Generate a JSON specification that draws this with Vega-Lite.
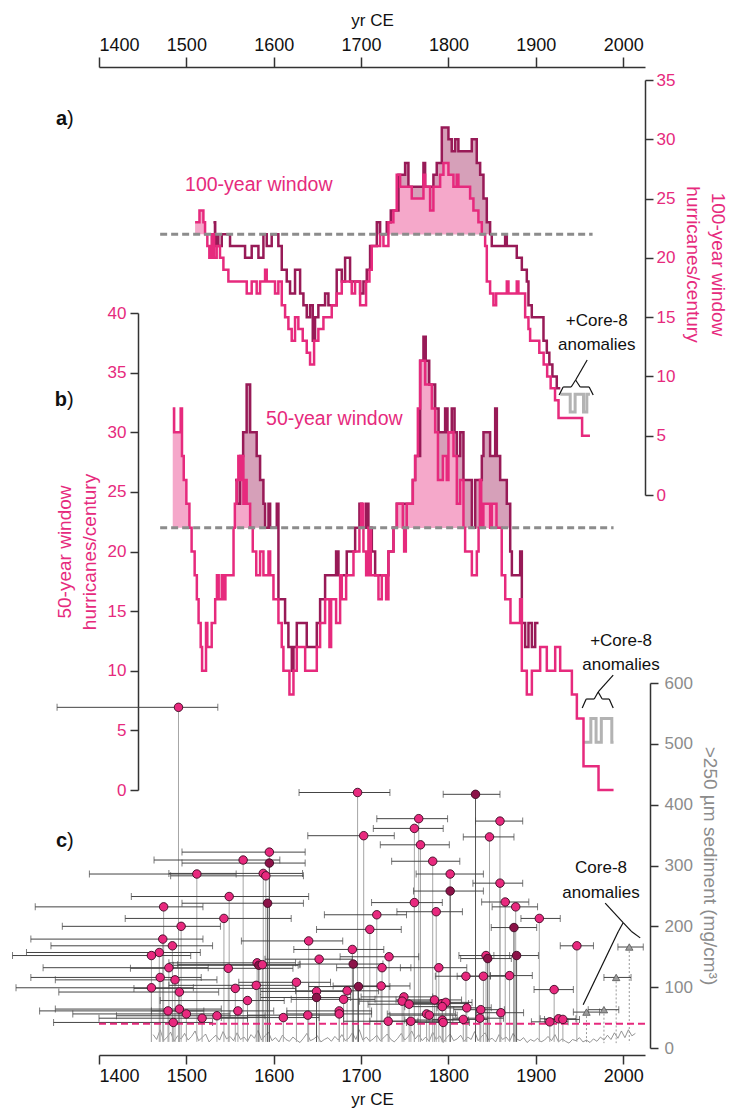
{
  "$schema": "https://vega.github.io/schema/vega-lite/v6.json",
  "width": 546,
  "height": 988,
  "padding": {"left": 99, "top": 67, "right": 84, "bottom": 65},
  "autosize": {"type": "none"},
  "background": "white",
  "config": {
    "view": {"stroke": null},
    "axis": {
      "grid": false, "domainColor": "#333333", "tickColor": "#333333",
      "domainWidth": 1.5, "tickWidth": 1.5,
      "labelFont": "Liberation Sans, Arial, sans-serif",
      "labelFontSize": 17, "labelColor": "#111111",
      "titleFont": "Liberation Sans, Arial, sans-serif",
      "titleFontSize": 19, "titleFontWeight": "normal", "titleColor": "#111111"
    },
    "text": {"font": "Liberation Sans, Arial, sans-serif"}
  },
  "datasets": {
    "a_pink": [
      {"yr":1510,"rate":23},{"yr":1515,"rate":24},{"yr":1519.5,"rate":23},{"yr":1521.4,"rate":22},{"yr":1524,"rate":21},{"yr":1526.3,"rate":20},{"yr":1529,"rate":22},{"yr":1531.7,"rate":20},{"yr":1534.7,"rate":21},{"yr":1538.5,"rate":20},{"yr":1542.4,"rate":19},{"yr":1548.1,"rate":18},{"yr":1569.1,"rate":17},{"yr":1574.8,"rate":18},{"yr":1580.5,"rate":17},{"yr":1584.4,"rate":18},{"yr":1590.1,"rate":19},{"yr":1592,"rate":18},{"yr":1601.5,"rate":17},{"yr":1605.3,"rate":18},{"yr":1609.2,"rate":16},{"yr":1613,"rate":15},{"yr":1616.8,"rate":14},{"yr":1620.6,"rate":13},{"yr":1624.4,"rate":15},{"yr":1628.2,"rate":14},{"yr":1633.2,"rate":13},{"yr":1637.8,"rate":12},{"yr":1641.6,"rate":11},{"yr":1646.2,"rate":13},{"yr":1651.1,"rate":14},{"yr":1656.9,"rate":15},{"yr":1666.4,"rate":16},{"yr":1672.1,"rate":17},{"yr":1677.9,"rate":18},{"yr":1689.3,"rate":17},{"yr":1693.1,"rate":18},{"yr":1698.9,"rate":16},{"yr":1705.7,"rate":18},{"yr":1709.6,"rate":19},{"yr":1712.2,"rate":21},{"yr":1721.8,"rate":22},{"yr":1725.6,"rate":21},{"yr":1731.3,"rate":23},{"yr":1737,"rate":24},{"yr":1740.8,"rate":27},{"yr":1744.7,"rate":26},{"yr":1758,"rate":25},{"yr":1771.4,"rate":27},{"yr":1773.3,"rate":26},{"yr":1779,"rate":24},{"yr":1782.8,"rate":26},{"yr":1790.5,"rate":27},{"yr":1794.3,"rate":28},{"yr":1800,"rate":27},{"yr":1805.7,"rate":26},{"yr":1809.5,"rate":27},{"yr":1811.4,"rate":26},{"yr":1824.8,"rate":25},{"yr":1828.6,"rate":24},{"yr":1834.3,"rate":23},{"yr":1838.2,"rate":22},{"yr":1842,"rate":21},{"yr":1843.9,"rate":18},{"yr":1847.7,"rate":17},{"yr":1851.5,"rate":16},{"yr":1854.6,"rate":17},{"yr":1866.8,"rate":18},{"yr":1868.7,"rate":17},{"yr":1878.2,"rate":18},{"yr":1880.1,"rate":17},{"yr":1887.8,"rate":15},{"yr":1891.6,"rate":14},{"yr":1893.5,"rate":13},{"yr":1904,"rate":12},{"yr":1909,"rate":11},{"yr":1913,"rate":10},{"yr":1917,"rate":9},{"yr":1922,"rate":8},{"yr":1926,"rate":6.5},{"yr":1953,"rate":5},{"yr":1962,"rate":5}
    ],
    "a_dark": [
      {"yr":1531,"rate":23},{"yr":1533,"rate":21},{"yr":1534.7,"rate":22},{"yr":1536.6,"rate":21},{"yr":1540.5,"rate":22},{"yr":1550,"rate":21},{"yr":1567.2,"rate":20},{"yr":1574.8,"rate":21},{"yr":1582.5,"rate":20},{"yr":1588.2,"rate":22},{"yr":1592,"rate":21},{"yr":1597.7,"rate":22},{"yr":1605.3,"rate":21},{"yr":1609.2,"rate":19},{"yr":1614.9,"rate":18},{"yr":1618.7,"rate":17},{"yr":1624.4,"rate":19},{"yr":1630.2,"rate":17},{"yr":1634,"rate":16},{"yr":1637.8,"rate":15},{"yr":1641.6,"rate":16},{"yr":1644.7,"rate":13},{"yr":1647.3,"rate":15},{"yr":1651.1,"rate":16},{"yr":1658.8,"rate":17},{"yr":1662.6,"rate":16},{"yr":1672.1,"rate":19},{"yr":1677.9,"rate":18},{"yr":1681.7,"rate":20},{"yr":1687.4,"rate":18},{"yr":1698.9,"rate":17},{"yr":1702.7,"rate":18},{"yr":1706.5,"rate":19},{"yr":1710.3,"rate":21},{"yr":1718,"rate":23},{"yr":1721.8,"rate":22},{"yr":1729.4,"rate":23},{"yr":1734,"rate":24},{"yr":1742.8,"rate":27},{"yr":1750.4,"rate":28},{"yr":1754.2,"rate":26},{"yr":1771.4,"rate":28},{"yr":1773.3,"rate":26},{"yr":1782.8,"rate":27},{"yr":1786.6,"rate":28},{"yr":1792.4,"rate":31},{"yr":1800,"rate":30},{"yr":1803.8,"rate":29},{"yr":1807.6,"rate":30},{"yr":1811.4,"rate":29},{"yr":1826.7,"rate":30},{"yr":1832.4,"rate":28},{"yr":1836.3,"rate":27},{"yr":1840.1,"rate":25},{"yr":1843.9,"rate":23},{"yr":1847.7,"rate":22},{"yr":1849.6,"rate":21},{"yr":1864.9,"rate":22},{"yr":1866.8,"rate":21},{"yr":1878.2,"rate":20},{"yr":1884,"rate":19},{"yr":1889.7,"rate":18},{"yr":1891.6,"rate":16},{"yr":1895.4,"rate":15},{"yr":1908.8,"rate":13},{"yr":1912.6,"rate":12},{"yr":1915.5,"rate":11},{"yr":1919,"rate":10},{"yr":1924,"rate":9},{"yr":1928,"rate":9}
    ],
    "a_core8": [
      {"yr":1928,"rate":8.5},{"yr":1939.4,"rate":7},{"yr":1945,"rate":8.5},{"yr":1954.6,"rate":7},{"yr":1958.4,"rate":8.5},{"yr":1962,"rate":8.5}
    ],
    "b_pink": [
      {"yr":1484.4,"rate":32},{"yr":1486,"rate":30},{"yr":1493.5,"rate":32},{"yr":1495,"rate":28},{"yr":1497,"rate":26},{"yr":1500,"rate":24},{"yr":1503.5,"rate":22},{"yr":1506,"rate":20},{"yr":1509.5,"rate":18},{"yr":1512,"rate":16},{"yr":1514,"rate":14},{"yr":1516.4,"rate":12},{"yr":1518,"rate":10},{"yr":1522.5,"rate":14},{"yr":1524,"rate":12},{"yr":1529,"rate":14},{"yr":1533,"rate":16},{"yr":1535,"rate":18},{"yr":1537,"rate":16},{"yr":1540.5,"rate":18},{"yr":1542,"rate":16},{"yr":1544.7,"rate":18},{"yr":1554,"rate":22},{"yr":1555.5,"rate":24},{"yr":1557.6,"rate":26},{"yr":1559.5,"rate":28},{"yr":1562,"rate":26},{"yr":1563.5,"rate":28},{"yr":1565.3,"rate":24},{"yr":1567,"rate":26},{"yr":1569,"rate":24},{"yr":1573,"rate":22},{"yr":1576,"rate":20},{"yr":1580,"rate":18},{"yr":1584.4,"rate":20},{"yr":1588.2,"rate":18},{"yr":1594,"rate":20},{"yr":1595.9,"rate":18},{"yr":1599.7,"rate":16},{"yr":1605.4,"rate":14},{"yr":1609.2,"rate":12},{"yr":1611.1,"rate":10},{"yr":1618,"rate":8},{"yr":1622.6,"rate":10},{"yr":1626.4,"rate":12},{"yr":1636,"rate":10},{"yr":1649.3,"rate":12},{"yr":1653.1,"rate":14},{"yr":1658.8,"rate":16},{"yr":1663.8,"rate":12},{"yr":1665.7,"rate":16},{"yr":1671.4,"rate":14},{"yr":1676,"rate":18},{"yr":1677.9,"rate":16},{"yr":1682.9,"rate":18},{"yr":1691.3,"rate":20},{"yr":1698.1,"rate":22},{"yr":1700,"rate":24},{"yr":1702.7,"rate":20},{"yr":1705.8,"rate":18},{"yr":1708.4,"rate":22},{"yr":1711.1,"rate":18},{"yr":1719.9,"rate":16},{"yr":1723.7,"rate":18},{"yr":1728.7,"rate":16},{"yr":1731.3,"rate":20},{"yr":1737.1,"rate":22},{"yr":1740.9,"rate":24},{"yr":1747.8,"rate":22},{"yr":1749.3,"rate":20},{"yr":1751.2,"rate":22},{"yr":1752.3,"rate":24},{"yr":1759.2,"rate":26},{"yr":1761.9,"rate":28},{"yr":1765,"rate":32},{"yr":1767.6,"rate":36},{"yr":1773.3,"rate":34},{"yr":1781,"rate":32},{"yr":1784.8,"rate":30},{"yr":1788,"rate":26},{"yr":1793.6,"rate":28},{"yr":1798.1,"rate":26},{"yr":1800,"rate":30},{"yr":1805.8,"rate":28},{"yr":1809.6,"rate":24},{"yr":1813.4,"rate":26},{"yr":1817.2,"rate":22},{"yr":1819.1,"rate":20},{"yr":1826.8,"rate":18},{"yr":1832.5,"rate":20},{"yr":1834.5,"rate":22},{"yr":1836,"rate":26},{"yr":1837.5,"rate":22},{"yr":1840,"rate":24},{"yr":1847.7,"rate":22},{"yr":1849.6,"rate":24},{"yr":1855,"rate":22},{"yr":1861,"rate":18},{"yr":1865,"rate":16},{"yr":1871,"rate":14},{"yr":1882,"rate":16},{"yr":1884,"rate":10},{"yr":1889.7,"rate":8},{"yr":1895.5,"rate":10},{"yr":1905,"rate":12},{"yr":1912.6,"rate":10},{"yr":1922.2,"rate":12},{"yr":1927.9,"rate":10},{"yr":1941.3,"rate":8},{"yr":1947,"rate":6},{"yr":1954.6,"rate":2},{"yr":1971.8,"rate":0},{"yr":1989,"rate":0}
    ],
    "b_dark": [
      {"yr":1555.7,"rate":26},{"yr":1558,"rate":24},{"yr":1561.5,"rate":28},{"yr":1565,"rate":30},{"yr":1569,"rate":34},{"yr":1573,"rate":30},{"yr":1580.5,"rate":28},{"yr":1584.4,"rate":26},{"yr":1588.2,"rate":24},{"yr":1590.1,"rate":22},{"yr":1594,"rate":24},{"yr":1595.9,"rate":22},{"yr":1603.5,"rate":24},{"yr":1605.4,"rate":16},{"yr":1613,"rate":14},{"yr":1616.8,"rate":12},{"yr":1620.7,"rate":10},{"yr":1622.6,"rate":12},{"yr":1626.4,"rate":14},{"yr":1637.8,"rate":12},{"yr":1649.3,"rate":14},{"yr":1653.1,"rate":16},{"yr":1658.8,"rate":18},{"yr":1671.4,"rate":20},{"yr":1674.1,"rate":18},{"yr":1683.6,"rate":20},{"yr":1693.2,"rate":22},{"yr":1698.1,"rate":24},{"yr":1700.8,"rate":22},{"yr":1705.8,"rate":24},{"yr":1708.4,"rate":22},{"yr":1712.3,"rate":20},{"yr":1716.1,"rate":18},{"yr":1731.3,"rate":20},{"yr":1737.1,"rate":22},{"yr":1740.9,"rate":24},{"yr":1759.2,"rate":26},{"yr":1761.9,"rate":28},{"yr":1767.6,"rate":36},{"yr":1771.4,"rate":38},{"yr":1774,"rate":36},{"yr":1778,"rate":34},{"yr":1784.8,"rate":32},{"yr":1788.7,"rate":30},{"yr":1796.2,"rate":32},{"yr":1798.9,"rate":30},{"yr":1803.8,"rate":32},{"yr":1807,"rate":30},{"yr":1809.6,"rate":28},{"yr":1813.4,"rate":30},{"yr":1817.2,"rate":26},{"yr":1826.8,"rate":22},{"yr":1830.6,"rate":26},{"yr":1838.2,"rate":28},{"yr":1840.1,"rate":30},{"yr":1847.7,"rate":28},{"yr":1853.5,"rate":32},{"yr":1855.4,"rate":28},{"yr":1859.2,"rate":26},{"yr":1866.8,"rate":24},{"yr":1870.7,"rate":20},{"yr":1872.6,"rate":18},{"yr":1882.1,"rate":20},{"yr":1884,"rate":14},{"yr":1887.8,"rate":12},{"yr":1891.6,"rate":14},{"yr":1895.5,"rate":12},{"yr":1899.3,"rate":14},{"yr":1903.1,"rate":14}
    ],
    "b_core8": [
      {"yr":1955,"rate":4},{"yr":1963,"rate":6},{"yr":1969,"rate":4},{"yr":1975,"rate":6},{"yr":1987,"rate":4},{"yr":1989,"rate":4}
    ],
    "thresholds": [
      {"panel":"a","start":1470,"end":1965,"rate":22},
      {"panel":"b","start":1470,"end":1989,"rate":22},
      {"panel":"c","start":1400,"end":2027,"rate":40}
    ],
    "events": [
      {"yr":1491,"mg":560,"lo":1352,"hi":1536,"record":"A"},{"yr":1512,"mg":286,"lo":1389,"hi":1557,"record":"A"},{"yr":1549,"mg":249,"lo":1437,"hi":1640,"record":"A"},{"yr":1474,"mg":232,"lo":1327,"hi":1519,"record":"A"},{"yr":1543,"mg":213,"lo":1430,"hi":1620,"record":"A"},{"yr":1494,"mg":200,"lo":1358,"hi":1539,"record":"A"},{"yr":1473,"mg":179,"lo":1322,"hi":1519,"record":"A"},{"yr":1484,"mg":168,"lo":1345,"hi":1530,"record":"A"},{"yr":1469,"mg":157,"lo":1317,"hi":1516,"record":"A"},{"yr":1460,"mg":152,"lo":1301,"hi":1505,"record":"A"},{"yr":1480,"mg":132,"lo":1336,"hi":1525,"record":"A"},{"yr":1548,"mg":131,"lo":1436,"hi":1622,"record":"A"},{"yr":1470,"mg":116,"lo":1322,"hi":1517,"record":"A"},{"yr":1487,"mg":112,"lo":1350,"hi":1535,"record":"A"},{"yr":1460,"mg":99,"lo":1305,"hi":1508,"record":"A"},{"yr":1492,"mg":92,"lo":1354,"hi":1537,"record":"A"},{"yr":1556,"mg":98,"lo":1440,"hi":1625,"record":"A"},{"yr":1479,"mg":61,"lo":1332,"hi":1520,"record":"A"},{"yr":1492,"mg":64,"lo":1350,"hi":1540,"record":"A"},{"yr":1500,"mg":56,"lo":1370,"hi":1550,"record":"A"},{"yr":1518,"mg":49,"lo":1400,"hi":1570,"record":"A"},{"yr":1535,"mg":53,"lo":1420,"hi":1590,"record":"A"},{"yr":1485,"mg":42,"lo":1348,"hi":1530,"record":"A"},{"yr":1559,"mg":61,"lo":1460,"hi":1600,"record":"A"},
      {"yr":1696,"mg":420,"lo":1629,"hi":1733,"record":"A"},{"yr":1766,"mg":377,"lo":1718,"hi":1799,"record":"A"},{"yr":1761,"mg":361,"lo":1714,"hi":1794,"record":"A"},{"yr":1703,"mg":349,"lo":1639,"hi":1738,"record":"A"},{"yr":1768,"mg":334,"lo":1722,"hi":1801,"record":"A"},{"yr":1595,"mg":322,"lo":1495,"hi":1636,"record":"A"},{"yr":1565,"mg":309,"lo":1463,"hi":1607,"record":"A"},{"yr":1595,"mg":304,"lo":1495,"hi":1636,"record":"B"},{"yr":1782,"mg":307,"lo":1735,"hi":1813,"record":"A"},{"yr":1588,"mg":287,"lo":1480,"hi":1633,"record":"A"},{"yr":1591,"mg":283,"lo":1482,"hi":1634,"record":"A"},{"yr":1802,"mg":286,"lo":1763,"hi":1840,"record":"A"},{"yr":1802,"mg":258,"lo":1760,"hi":1840,"record":"B"},{"yr":1593,"mg":238,"lo":1495,"hi":1634,"record":"B"},{"yr":1761,"mg":239,"lo":1712,"hi":1793,"record":"A"},{"yr":1786,"mg":224,"lo":1741,"hi":1816,"record":"A"},{"yr":1718,"mg":219,"lo":1658,"hi":1752,"record":"A"},{"yr":1710,"mg":195,"lo":1649,"hi":1746,"record":"A"},{"yr":1640,"mg":176,"lo":1563,"hi":1679,"record":"A"},{"yr":1690,"mg":162,"lo":1623,"hi":1726,"record":"A"},{"yr":1732,"mg":150,"lo":1676,"hi":1766,"record":"A"},{"yr":1652,"mg":146,"lo":1590,"hi":1690,"record":"A"},{"yr":1581,"mg":140,"lo":1480,"hi":1625,"record":"A"},{"yr":1583,"mg":136,"lo":1485,"hi":1628,"record":"B"},{"yr":1587,"mg":137,"lo":1490,"hi":1630,"record":"A"},{"yr":1691,"mg":138,"lo":1630,"hi":1725,"record":"B"},{"yr":1724,"mg":132,"lo":1672,"hi":1757,"record":"A"},{"yr":1789,"mg":132,"lo":1745,"hi":1821,"record":"A"},{"yr":1820,"mg":118,"lo":1785,"hi":1848,"record":"A"},{"yr":1626,"mg":108,"lo":1560,"hi":1665,"record":"A"},{"yr":1580,"mg":103,"lo":1480,"hi":1622,"record":"A"},{"yr":1697,"mg":101,"lo":1640,"hi":1733,"record":"B"},{"yr":1723,"mg":102,"lo":1668,"hi":1756,"record":"A"},{"yr":1684,"mg":94,"lo":1625,"hi":1720,"record":"A"},{"yr":1649,"mg":93,"lo":1585,"hi":1688,"record":"A"},{"yr":1649,"mg":83,"lo":1585,"hi":1688,"record":"B"},{"yr":1680,"mg":80,"lo":1620,"hi":1716,"record":"A"},{"yr":1749,"mg":84,"lo":1700,"hi":1782,"record":"A"},{"yr":1747,"mg":77,"lo":1698,"hi":1780,"record":"A"},{"yr":1755,"mg":72,"lo":1708,"hi":1788,"record":"A"},{"yr":1784,"mg":79,"lo":1740,"hi":1815,"record":"A"},{"yr":1793,"mg":73,"lo":1750,"hi":1823,"record":"A"},{"yr":1797,"mg":75,"lo":1755,"hi":1827,"record":"A"},{"yr":1793,"mg":68,"lo":1750,"hi":1823,"record":"A"},{"yr":1570,"mg":78,"lo":1470,"hi":1612,"record":"A"},{"yr":1675,"mg":61,"lo":1615,"hi":1712,"record":"A"},{"yr":1675,"mg":56,"lo":1615,"hi":1712,"record":"A"},{"yr":1611,"mg":50,"lo":1540,"hi":1652,"record":"A"},{"yr":1639,"mg":54,"lo":1570,"hi":1680,"record":"A"},{"yr":1731,"mg":44,"lo":1680,"hi":1765,"record":"A"},{"yr":1757,"mg":44,"lo":1710,"hi":1790,"record":"A"},{"yr":1775,"mg":56,"lo":1730,"hi":1808,"record":"A"},{"yr":1778,"mg":54,"lo":1733,"hi":1810,"record":"A"},{"yr":1793,"mg":46,"lo":1750,"hi":1823,"record":"A"},{"yr":1794,"mg":42,"lo":1752,"hi":1824,"record":"A"},{"yr":1817,"mg":47,"lo":1782,"hi":1845,"record":"A"},{"yr":1821,"mg":66,"lo":1787,"hi":1849,"record":"A"},
      {"yr":1831,"mg":417,"lo":1794,"hi":1859,"record":"B"},{"yr":1859,"mg":373,"lo":1831,"hi":1885,"record":"A"},{"yr":1847,"mg":347,"lo":1817,"hi":1875,"record":"A"},{"yr":1859,"mg":271,"lo":1828,"hi":1885,"record":"A"},{"yr":1865,"mg":240,"lo":1838,"hi":1892,"record":"A"},{"yr":1877,"mg":232,"lo":1850,"hi":1902,"record":"A"},{"yr":1904,"mg":213,"lo":1883,"hi":1928,"record":"A"},{"yr":1875,"mg":198,"lo":1849,"hi":1901,"record":"B"},{"yr":1947,"mg":168,"lo":1928,"hi":1966,"record":"A"},{"yr":1843,"mg":152,"lo":1812,"hi":1870,"record":"A"},{"yr":1845,"mg":147,"lo":1814,"hi":1872,"record":"B"},{"yr":1878,"mg":152,"lo":1852,"hi":1903,"record":"B"},{"yr":1840,"mg":118,"lo":1810,"hi":1867,"record":"A"},{"yr":1870,"mg":119,"lo":1848,"hi":1896,"record":"A"},{"yr":1921,"mg":96,"lo":1898,"hi":1943,"record":"A"},{"yr":1837,"mg":63,"lo":1806,"hi":1864,"record":"A"},{"yr":1860,"mg":58,"lo":1832,"hi":1886,"record":"A"},{"yr":1836,"mg":49,"lo":1805,"hi":1863,"record":"A"},{"yr":1916,"mg":43,"lo":1895,"hi":1937,"record":"A"},{"yr":1926,"mg":48,"lo":1905,"hi":1946,"record":"A"},{"yr":1931,"mg":47,"lo":1910,"hi":1950,"record":"A"}
    ],
    "core8": [
      {"yr":1958,"mg":59,"lo":1943,"hi":1973},{"yr":1978,"mg":63,"lo":1960,"hi":1995},{"yr":1992,"mg":116,"lo":1978,"hi":2009},{"yr":2007,"mg":166,"lo":1994,"hi":2023}
    ],
    "sed": [
      {"yr":1462,"mg":22},{"yr":1466,"mg":14},{"yr":1470,"mg":30},{"yr":1474,"mg":12},{"yr":1478,"mg":18},{"yr":1482,"mg":26},{"yr":1486,"mg":11},{"yr":1490,"mg":20},{"yr":1494,"mg":15},{"yr":1498,"mg":24},{"yr":1502,"mg":13},{"yr":1506,"mg":19},{"yr":1510,"mg":28},{"yr":1514,"mg":12},{"yr":1518,"mg":17},{"yr":1522,"mg":23},{"yr":1526,"mg":10},{"yr":1530,"mg":16},{"yr":1534,"mg":21},{"yr":1538,"mg":13},{"yr":1542,"mg":27},{"yr":1546,"mg":15},{"yr":1550,"mg":19},{"yr":1554,"mg":12},{"yr":1558,"mg":25},{"yr":1562,"mg":14},{"yr":1566,"mg":18},{"yr":1570,"mg":11},{"yr":1574,"mg":22},{"yr":1578,"mg":16},{"yr":1582,"mg":29},{"yr":1586,"mg":13},{"yr":1590,"mg":20},{"yr":1594,"mg":26},{"yr":1598,"mg":12},{"yr":1602,"mg":17},{"yr":1606,"mg":10},{"yr":1610,"mg":21},{"yr":1614,"mg":14},{"yr":1618,"mg":11},{"yr":1622,"mg":18},{"yr":1626,"mg":13},{"yr":1630,"mg":9},{"yr":1634,"mg":16},{"yr":1638,"mg":24},{"yr":1642,"mg":12},{"yr":1646,"mg":15},{"yr":1650,"mg":20},{"yr":1654,"mg":10},{"yr":1658,"mg":14},{"yr":1662,"mg":17},{"yr":1666,"mg":11},{"yr":1670,"mg":19},{"yr":1674,"mg":13},{"yr":1678,"mg":22},{"yr":1682,"mg":12},{"yr":1686,"mg":16},{"yr":1690,"mg":25},{"yr":1694,"mg":14},{"yr":1698,"mg":30},{"yr":1702,"mg":13},{"yr":1706,"mg":18},{"yr":1710,"mg":11},{"yr":1714,"mg":15},{"yr":1718,"mg":21},{"yr":1722,"mg":12},{"yr":1726,"mg":17},{"yr":1730,"mg":23},{"yr":1734,"mg":14},{"yr":1738,"mg":10},{"yr":1742,"mg":16},{"yr":1746,"mg":24},{"yr":1750,"mg":13},{"yr":1754,"mg":19},{"yr":1758,"mg":28},{"yr":1762,"mg":15},{"yr":1766,"mg":22},{"yr":1770,"mg":12},{"yr":1774,"mg":18},{"yr":1778,"mg":11},{"yr":1782,"mg":26},{"yr":1786,"mg":14},{"yr":1790,"mg":20},{"yr":1794,"mg":9},{"yr":1798,"mg":17},{"yr":1802,"mg":23},{"yr":1806,"mg":12},{"yr":1810,"mg":15},{"yr":1814,"mg":21},{"yr":1818,"mg":11},{"yr":1822,"mg":18},{"yr":1826,"mg":14},{"yr":1830,"mg":27},{"yr":1834,"mg":12},{"yr":1838,"mg":19},{"yr":1842,"mg":25},{"yr":1846,"mg":13},{"yr":1850,"mg":16},{"yr":1854,"mg":10},{"yr":1858,"mg":22},{"yr":1862,"mg":14},{"yr":1866,"mg":18},{"yr":1870,"mg":11},{"yr":1874,"mg":24},{"yr":1878,"mg":15},{"yr":1882,"mg":12},{"yr":1886,"mg":17},{"yr":1890,"mg":9},{"yr":1894,"mg":14},{"yr":1898,"mg":11},{"yr":1902,"mg":16},{"yr":1906,"mg":10},{"yr":1910,"mg":13},{"yr":1914,"mg":19},{"yr":1918,"mg":12},{"yr":1922,"mg":22},{"yr":1926,"mg":10},{"yr":1930,"mg":15},{"yr":1934,"mg":11},{"yr":1938,"mg":8},{"yr":1942,"mg":14},{"yr":1946,"mg":12},{"yr":1950,"mg":17},{"yr":1954,"mg":10},{"yr":1958,"mg":13},{"yr":1962,"mg":9},{"yr":1966,"mg":15},{"yr":1970,"mg":11},{"yr":1974,"mg":18},{"yr":1978,"mg":13},{"yr":1982,"mg":21},{"yr":1986,"mg":14},{"yr":1990,"mg":25},{"yr":1994,"mg":16},{"yr":1998,"mg":28},{"yr":2002,"mg":17},{"yr":2006,"mg":30},{"yr":2010,"mg":20},{"yr":2014,"mg":24}
    ]
  },
  "resolve": {"scale": {"y": "independent"}, "axis": {"x": "independent", "y": "independent"}},
  "layer": [
    {"data": {"name": "a_dark"}, "mark": {"type": "area", "interpolate": "step-after", "fill": "#d6a0b9"},
     "encoding": {"x": {"field": "yr", "type": "quantitative", "scale": {"domain": [1400, 2025], "nice": false, "zero": false}, "axis": null},
                  "y": {"field": "rate", "type": "quantitative", "scale": {"domain": [22, 35], "range": [167.14, 13], "clamp": true, "nice": false, "zero": false}, "axis": null},
                  "y2": {"datum": 22}}},
    {"data": {"name": "a_pink"}, "mark": {"type": "area", "interpolate": "step-after", "fill": "#f5a8ca"},
     "encoding": {"x": {"field": "yr", "type": "quantitative", "scale": {"domain": [1400, 2025], "nice": false, "zero": false}, "axis": null},
                  "y": {"field": "rate", "type": "quantitative", "scale": {"domain": [22, 35], "range": [167.14, 13], "clamp": true, "nice": false, "zero": false}, "axis": null},
                  "y2": {"datum": 22}}},
    {"data": {"name": "b_dark"}, "mark": {"type": "area", "interpolate": "step-after", "fill": "#d6a0b9"},
     "encoding": {"x": {"field": "yr", "type": "quantitative", "scale": {"domain": [1400, 2025], "nice": false, "zero": false}, "axis": null},
                  "y": {"field": "rate", "type": "quantitative", "scale": {"domain": [22, 40], "range": [460.65, 246], "clamp": true, "nice": false, "zero": false}, "axis": null},
                  "y2": {"datum": 22}}},
    {"data": {"name": "b_pink"}, "mark": {"type": "area", "interpolate": "step-after", "fill": "#f5a8ca"},
     "encoding": {"x": {"field": "yr", "type": "quantitative", "scale": {"domain": [1400, 2025], "nice": false, "zero": false}, "axis": null},
                  "y": {"field": "rate", "type": "quantitative", "scale": {"domain": [22, 40], "range": [460.65, 246], "clamp": true, "nice": false, "zero": false}, "axis": null},
                  "y2": {"datum": 22}}},

    {"data": {"name": "a_dark"}, "mark": {"type": "line", "interpolate": "step-after", "stroke": "#981a57", "strokeWidth": 2.5},
     "encoding": {"x": {"field": "yr", "type": "quantitative", "scale": {"domain": [1400, 2025], "nice": false, "zero": false}, "axis": null},
                  "y": {"field": "rate", "type": "quantitative", "scale": {"domain": [0, 35], "range": [428, 13], "nice": false, "zero": false}, "axis": null}}},
    {"data": {"name": "a_core8"}, "mark": {"type": "line", "interpolate": "step-after", "stroke": "#b3b3b3", "strokeWidth": 3},
     "encoding": {"x": {"field": "yr", "type": "quantitative", "scale": {"domain": [1400, 2025], "nice": false, "zero": false}, "axis": null},
                  "y": {"field": "rate", "type": "quantitative", "scale": {"domain": [0, 35], "range": [428, 13], "nice": false, "zero": false}, "axis": null}}},
    {"data": {"name": "a_pink"}, "mark": {"type": "line", "interpolate": "step-after", "stroke": "#e62a7d", "strokeWidth": 2.5},
     "encoding": {"x": {"field": "yr", "type": "quantitative", "scale": {"domain": [1400, 2025], "nice": false, "zero": false},
                        "axis": {"orient": "top", "values": [1400, 1500, 1600, 1700, 1800, 1900, 2000], "format": "d", "tickSize": 10, "labelPadding": 3, "labelFontSize": 18, "title": "yr CE", "titleFontSize": 17, "titlePadding": 7}},
                  "y": {"field": "rate", "type": "quantitative", "scale": {"domain": [0, 35], "range": [428, 13], "nice": false, "zero": false},
                        "axis": {"orient": "right", "values": [0, 5, 10, 15, 20, 25, 30, 35], "tickSize": 8, "labelPadding": 3, "labelColor": "#e62a7d", "title": ["100-year window", "hurricanes/century"], "titleColor": "#e62a7d", "titleLineHeight": 25, "titlePadding": 8, "titleY": 197}}}},
    {"data": {"name": "thresholds"}, "transform": [{"filter": "datum.panel == 'a'"}],
     "mark": {"type": "rule", "stroke": "#8c8c8c", "strokeWidth": 3, "strokeDash": [7, 4]},
     "encoding": {"x": {"field": "start", "type": "quantitative", "scale": {"domain": [1400, 2025], "nice": false, "zero": false}, "axis": null}, "x2": {"field": "end"},
                  "y": {"field": "rate", "type": "quantitative", "scale": {"domain": [0, 35], "range": [428, 13], "nice": false, "zero": false}, "axis": null}}},
    {"data": {"name": "thresholds"}, "transform": [{"filter": "datum.panel == 'a'"}],
     "mark": {"type": "text", "text": "100-year window", "align": "left", "baseline": "alphabetic", "fontSize": 19.5, "fill": "#e62a7d"},
     "encoding": {"x": {"datum": 1498.5, "type": "quantitative", "scale": {"domain": [1400, 2025], "nice": false, "zero": false}, "axis": null},
                  "y": {"datum": 25.6, "type": "quantitative", "scale": {"domain": [0, 35], "range": [428, 13], "nice": false, "zero": false}, "axis": null}}},
    {"data": {"name": "thresholds"}, "transform": [{"filter": "datum.panel == 'a'"}],
     "mark": {"type": "text", "text": ["+Core-8", "anomalies"], "align": "center", "baseline": "alphabetic", "lineHeight": 24, "fontSize": 17, "fill": "#111111"},
     "encoding": {"x": {"datum": 1969.8, "type": "quantitative", "scale": {"domain": [1400, 2025], "nice": false, "zero": false}, "axis": null},
                  "y": {"datum": 14.25, "type": "quantitative", "scale": {"domain": [0, 35], "range": [428, 13], "nice": false, "zero": false}, "axis": null}}},
    {"data": {"name": "thresholds"}, "transform": [{"filter": "datum.panel == 'a'"}],
     "mark": {"type": "rule", "stroke": "#111111", "strokeWidth": 1.2},
     "encoding": {"x": {"datum": 1958.8, "type": "quantitative", "scale": {"domain": [1400, 2025], "nice": false, "zero": false}, "axis": null}, "x2": {"datum": 1945.6},
                  "y": {"datum": 11.39, "type": "quantitative", "scale": {"domain": [0, 35], "range": [428, 13], "nice": false, "zero": false}, "axis": null}, "y2": {"datum": 9.7}}},
    {"data": {"name": "thresholds"}, "transform": [{"filter": "datum.panel == 'a'"}],
     "mark": {"type": "rule", "stroke": "#111111", "strokeWidth": 1.2},
     "encoding": {"x": {"datum": 1926.7, "type": "quantitative", "scale": {"domain": [1400, 2025], "nice": false, "zero": false}, "axis": null}, "x2": {"datum": 1931.3},
                  "y": {"datum": 8.43, "type": "quantitative", "scale": {"domain": [0, 35], "range": [428, 13], "nice": false, "zero": false}, "axis": null}, "y2": {"datum": 9.11}}},
    {"data": {"name": "thresholds"}, "transform": [{"filter": "datum.panel == 'a'"}],
     "mark": {"type": "rule", "stroke": "#111111", "strokeWidth": 1.2},
     "encoding": {"x": {"datum": 1931.3, "type": "quantitative", "scale": {"domain": [1400, 2025], "nice": false, "zero": false}, "axis": null}, "x2": {"datum": 1940.5},
                  "y": {"datum": 9.11, "type": "quantitative", "scale": {"domain": [0, 35], "range": [428, 13], "nice": false, "zero": false}, "axis": null}, "y2": {"datum": 9.11}}},
    {"data": {"name": "thresholds"}, "transform": [{"filter": "datum.panel == 'a'"}],
     "mark": {"type": "rule", "stroke": "#111111", "strokeWidth": 1.2},
     "encoding": {"x": {"datum": 1940.5, "type": "quantitative", "scale": {"domain": [1400, 2025], "nice": false, "zero": false}, "axis": null}, "x2": {"datum": 1945.6},
                  "y": {"datum": 9.11, "type": "quantitative", "scale": {"domain": [0, 35], "range": [428, 13], "nice": false, "zero": false}, "axis": null}, "y2": {"datum": 9.7}}},
    {"data": {"name": "thresholds"}, "transform": [{"filter": "datum.panel == 'a'"}],
     "mark": {"type": "rule", "stroke": "#111111", "strokeWidth": 1.2},
     "encoding": {"x": {"datum": 1945.6, "type": "quantitative", "scale": {"domain": [1400, 2025], "nice": false, "zero": false}, "axis": null}, "x2": {"datum": 1950.8},
                  "y": {"datum": 9.7, "type": "quantitative", "scale": {"domain": [0, 35], "range": [428, 13], "nice": false, "zero": false}, "axis": null}, "y2": {"datum": 9.11}}},
    {"data": {"name": "thresholds"}, "transform": [{"filter": "datum.panel == 'a'"}],
     "mark": {"type": "rule", "stroke": "#111111", "strokeWidth": 1.2},
     "encoding": {"x": {"datum": 1950.8, "type": "quantitative", "scale": {"domain": [1400, 2025], "nice": false, "zero": false}, "axis": null}, "x2": {"datum": 1961.1},
                  "y": {"datum": 9.11, "type": "quantitative", "scale": {"domain": [0, 35], "range": [428, 13], "nice": false, "zero": false}, "axis": null}, "y2": {"datum": 9.11}}},
    {"data": {"name": "thresholds"}, "transform": [{"filter": "datum.panel == 'a'"}],
     "mark": {"type": "rule", "stroke": "#111111", "strokeWidth": 1.2},
     "encoding": {"x": {"datum": 1961.1, "type": "quantitative", "scale": {"domain": [1400, 2025], "nice": false, "zero": false}, "axis": null}, "x2": {"datum": 1965.7},
                  "y": {"datum": 9.11, "type": "quantitative", "scale": {"domain": [0, 35], "range": [428, 13], "nice": false, "zero": false}, "axis": null}, "y2": {"datum": 8.43}}},
    {"data": {"name": "thresholds"}, "transform": [{"filter": "datum.panel == 'a'"}],
     "mark": {"type": "text", "text": "a", "align": "right", "baseline": "alphabetic", "fontSize": 20, "fontWeight": "bold", "fill": "#111111"},
     "encoding": {"x": {"datum": 1363.4, "type": "quantitative", "scale": {"domain": [1400, 2025], "nice": false, "zero": false}, "axis": null},
                  "y": {"datum": 31.2, "type": "quantitative", "scale": {"domain": [0, 35], "range": [428, 13], "nice": false, "zero": false}, "axis": null}}},
    {"data": {"name": "thresholds"}, "transform": [{"filter": "datum.panel == 'a'"}],
     "mark": {"type": "text", "text": ")", "align": "left", "baseline": "alphabetic", "fontSize": 20, "fill": "#111111"},
     "encoding": {"x": {"datum": 1363.4, "type": "quantitative", "scale": {"domain": [1400, 2025], "nice": false, "zero": false}, "axis": null},
                  "y": {"datum": 31.2, "type": "quantitative", "scale": {"domain": [0, 35], "range": [428, 13], "nice": false, "zero": false}, "axis": null}}},

    {"data": {"name": "b_dark"}, "mark": {"type": "line", "interpolate": "step-after", "stroke": "#981a57", "strokeWidth": 2.5},
     "encoding": {"x": {"field": "yr", "type": "quantitative", "scale": {"domain": [1400, 2025], "nice": false, "zero": false}, "axis": null},
                  "y": {"field": "rate", "type": "quantitative", "scale": {"domain": [0, 40], "range": [723, 246], "nice": false, "zero": false}, "axis": null}}},
    {"data": {"name": "b_core8"}, "mark": {"type": "line", "interpolate": "step-after", "stroke": "#b3b3b3", "strokeWidth": 3},
     "encoding": {"x": {"field": "yr", "type": "quantitative", "scale": {"domain": [1400, 2025], "nice": false, "zero": false}, "axis": null},
                  "y": {"field": "rate", "type": "quantitative", "scale": {"domain": [0, 40], "range": [723, 246], "nice": false, "zero": false}, "axis": null}}},
    {"data": {"name": "b_pink"}, "mark": {"type": "line", "interpolate": "step-after", "stroke": "#e62a7d", "strokeWidth": 2.5},
     "encoding": {"x": {"field": "yr", "type": "quantitative", "scale": {"domain": [1400, 2025], "nice": false, "zero": false}, "axis": null},
                  "y": {"field": "rate", "type": "quantitative", "scale": {"domain": [0, 40], "range": [723, 246], "nice": false, "zero": false},
                        "axis": {"orient": "left", "offset": -39, "values": [0, 5, 10, 15, 20, 25, 30, 35, 40], "tickSize": 8, "labelPadding": 4, "labelColor": "#e62a7d", "title": ["50-year window", "hurricanes/century"], "titleColor": "#e62a7d", "titleLineHeight": 25, "titlePadding": 8}}}},
    {"data": {"name": "thresholds"}, "transform": [{"filter": "datum.panel == 'b'"}],
     "mark": {"type": "rule", "stroke": "#8c8c8c", "strokeWidth": 3, "strokeDash": [7, 4]},
     "encoding": {"x": {"field": "start", "type": "quantitative", "scale": {"domain": [1400, 2025], "nice": false, "zero": false}, "axis": null}, "x2": {"field": "end"},
                  "y": {"field": "rate", "type": "quantitative", "scale": {"domain": [0, 40], "range": [723, 246], "nice": false, "zero": false}, "axis": null}}},
    {"data": {"name": "thresholds"}, "transform": [{"filter": "datum.panel == 'b'"}],
     "mark": {"type": "text", "text": "50-year window", "align": "left", "baseline": "alphabetic", "fontSize": 19.5, "fill": "#e62a7d"},
     "encoding": {"x": {"datum": 1591.2, "type": "quantitative", "scale": {"domain": [1400, 2025], "nice": false, "zero": false}, "axis": null},
                  "y": {"datum": 30.6, "type": "quantitative", "scale": {"domain": [0, 40], "range": [723, 246], "nice": false, "zero": false}, "axis": null}}},
    {"data": {"name": "thresholds"}, "transform": [{"filter": "datum.panel == 'b'"}],
     "mark": {"type": "text", "text": ["+Core-8", "anomalies"], "align": "center", "baseline": "alphabetic", "lineHeight": 24, "fontSize": 17, "fill": "#111111"},
     "encoding": {"x": {"datum": 1997.6, "type": "quantitative", "scale": {"domain": [1400, 2025], "nice": false, "zero": false}, "axis": null},
                  "y": {"datum": 12.07, "type": "quantitative", "scale": {"domain": [0, 40], "range": [723, 246], "nice": false, "zero": false}, "axis": null}}},
    {"data": {"name": "thresholds"}, "transform": [{"filter": "datum.panel == 'b'"}],
     "mark": {"type": "rule", "stroke": "#111111", "strokeWidth": 1.2},
     "encoding": {"x": {"datum": 1988.6, "type": "quantitative", "scale": {"domain": [1400, 2025], "nice": false, "zero": false}, "axis": null}, "x2": {"datum": 1971.4},
                  "y": {"datum": 9.64, "type": "quantitative", "scale": {"domain": [0, 40], "range": [723, 246], "nice": false, "zero": false}, "axis": null}, "y2": {"datum": 8.22}}},
    {"data": {"name": "thresholds"}, "transform": [{"filter": "datum.panel == 'b'"}],
     "mark": {"type": "rule", "stroke": "#111111", "strokeWidth": 1.2},
     "encoding": {"x": {"datum": 1953.1, "type": "quantitative", "scale": {"domain": [1400, 2025], "nice": false, "zero": false}, "axis": null}, "x2": {"datum": 1957.7},
                  "y": {"datum": 6.88, "type": "quantitative", "scale": {"domain": [0, 40], "range": [723, 246], "nice": false, "zero": false}, "axis": null}, "y2": {"datum": 7.63}}},
    {"data": {"name": "thresholds"}, "transform": [{"filter": "datum.panel == 'b'"}],
     "mark": {"type": "rule", "stroke": "#111111", "strokeWidth": 1.2},
     "encoding": {"x": {"datum": 1957.7, "type": "quantitative", "scale": {"domain": [1400, 2025], "nice": false, "zero": false}, "axis": null}, "x2": {"datum": 1966.9},
                  "y": {"datum": 7.63, "type": "quantitative", "scale": {"domain": [0, 40], "range": [723, 246], "nice": false, "zero": false}, "axis": null}, "y2": {"datum": 7.63}}},
    {"data": {"name": "thresholds"}, "transform": [{"filter": "datum.panel == 'b'"}],
     "mark": {"type": "rule", "stroke": "#111111", "strokeWidth": 1.2},
     "encoding": {"x": {"datum": 1966.9, "type": "quantitative", "scale": {"domain": [1400, 2025], "nice": false, "zero": false}, "axis": null}, "x2": {"datum": 1971.4},
                  "y": {"datum": 7.63, "type": "quantitative", "scale": {"domain": [0, 40], "range": [723, 246], "nice": false, "zero": false}, "axis": null}, "y2": {"datum": 8.22}}},
    {"data": {"name": "thresholds"}, "transform": [{"filter": "datum.panel == 'b'"}],
     "mark": {"type": "rule", "stroke": "#111111", "strokeWidth": 1.2},
     "encoding": {"x": {"datum": 1971.4, "type": "quantitative", "scale": {"domain": [1400, 2025], "nice": false, "zero": false}, "axis": null}, "x2": {"datum": 1976.0},
                  "y": {"datum": 8.22, "type": "quantitative", "scale": {"domain": [0, 40], "range": [723, 246], "nice": false, "zero": false}, "axis": null}, "y2": {"datum": 7.63}}},
    {"data": {"name": "thresholds"}, "transform": [{"filter": "datum.panel == 'b'"}],
     "mark": {"type": "rule", "stroke": "#111111", "strokeWidth": 1.2},
     "encoding": {"x": {"datum": 1976.0, "type": "quantitative", "scale": {"domain": [1400, 2025], "nice": false, "zero": false}, "axis": null}, "x2": {"datum": 1984.0},
                  "y": {"datum": 7.63, "type": "quantitative", "scale": {"domain": [0, 40], "range": [723, 246], "nice": false, "zero": false}, "axis": null}, "y2": {"datum": 7.63}}},
    {"data": {"name": "thresholds"}, "transform": [{"filter": "datum.panel == 'b'"}],
     "mark": {"type": "rule", "stroke": "#111111", "strokeWidth": 1.2},
     "encoding": {"x": {"datum": 1984.0, "type": "quantitative", "scale": {"domain": [1400, 2025], "nice": false, "zero": false}, "axis": null}, "x2": {"datum": 1988.6},
                  "y": {"datum": 7.63, "type": "quantitative", "scale": {"domain": [0, 40], "range": [723, 246], "nice": false, "zero": false}, "axis": null}, "y2": {"datum": 6.88}}},
    {"data": {"name": "thresholds"}, "transform": [{"filter": "datum.panel == 'b'"}],
     "mark": {"type": "text", "text": "b", "align": "right", "baseline": "alphabetic", "fontSize": 20, "fontWeight": "bold", "fill": "#111111"},
     "encoding": {"x": {"datum": 1363.4, "type": "quantitative", "scale": {"domain": [1400, 2025], "nice": false, "zero": false}, "axis": null},
                  "y": {"datum": 32.2, "type": "quantitative", "scale": {"domain": [0, 40], "range": [723, 246], "nice": false, "zero": false}, "axis": null}}},
    {"data": {"name": "thresholds"}, "transform": [{"filter": "datum.panel == 'b'"}],
     "mark": {"type": "text", "text": ")", "align": "left", "baseline": "alphabetic", "fontSize": 20, "fill": "#111111"},
     "encoding": {"x": {"datum": 1363.4, "type": "quantitative", "scale": {"domain": [1400, 2025], "nice": false, "zero": false}, "axis": null},
                  "y": {"datum": 32.2, "type": "quantitative", "scale": {"domain": [0, 40], "range": [723, 246], "nice": false, "zero": false}, "axis": null}}},

    {"data": {"name": "sed"}, "mark": {"type": "line", "stroke": "#7a7a7a", "strokeWidth": 0.8},
     "encoding": {"x": {"field": "yr", "type": "quantitative", "scale": {"domain": [1400, 2025], "nice": false, "zero": false},
                        "axis": {"orient": "bottom", "values": [1400, 1500, 1600, 1700, 1800, 1900, 2000], "format": "d", "tickSize": 9, "labelPadding": 3, "labelFontSize": 18, "title": "yr CE", "titleFontSize": 17, "titlePadding": 6}},
                  "y": {"field": "mg", "type": "quantitative", "scale": {"domain": [0, 600], "range": [981, 616], "nice": false, "zero": false},
                        "axis": {"orient": "right", "offset": 5, "values": [0, 100, 200, 300, 400, 500, 600], "format": "d", "tickSize": 8, "labelPadding": 6, "labelColor": "#8c8c8c", "title": ">250 µm sediment (mg/cm³)", "titleColor": "#8c8c8c", "titlePadding": 7}}}},
    {"data": {"name": "events"}, "mark": {"type": "rule", "strokeWidth": 1},
     "encoding": {"x": {"field": "yr", "type": "quantitative", "scale": {"domain": [1400, 2025], "nice": false, "zero": false}, "axis": null},
                  "y": {"field": "mg", "type": "quantitative", "scale": {"domain": [0, 600], "range": [981, 616], "nice": false, "zero": false}, "axis": null},
                  "y2": {"datum": 10},
                  "stroke": {"field": "record", "type": "nominal", "scale": {"domain": ["A", "B"], "range": ["#a6a6a6", "#555555"]}, "legend": null}}},
    {"data": {"name": "core8"}, "mark": {"type": "rule", "stroke": "#999999", "strokeWidth": 1, "strokeDash": [2, 2]},
     "encoding": {"x": {"field": "yr", "type": "quantitative", "scale": {"domain": [1400, 2025], "nice": false, "zero": false}, "axis": null},
                  "y": {"field": "mg", "type": "quantitative", "scale": {"domain": [0, 600], "range": [981, 616], "nice": false, "zero": false}, "axis": null},
                  "y2": {"datum": 8}}},
    {"data": {"name": "events"}, "mark": {"type": "rule", "stroke": "#444444", "strokeWidth": 1},
     "encoding": {"x": {"field": "lo", "type": "quantitative", "scale": {"domain": [1400, 2025], "nice": false, "zero": false}, "axis": null}, "x2": {"field": "hi"},
                  "y": {"field": "mg", "type": "quantitative", "scale": {"domain": [0, 600], "range": [981, 616], "nice": false, "zero": false}, "axis": null}}},
    {"data": {"name": "events"}, "mark": {"type": "tick", "orient": "vertical", "size": 7, "thickness": 1, "color": "#444444"},
     "encoding": {"x": {"field": "lo", "type": "quantitative", "scale": {"domain": [1400, 2025], "nice": false, "zero": false}, "axis": null},
                  "y": {"field": "mg", "type": "quantitative", "scale": {"domain": [0, 600], "range": [981, 616], "nice": false, "zero": false}, "axis": null}}},
    {"data": {"name": "events"}, "mark": {"type": "tick", "orient": "vertical", "size": 7, "thickness": 1, "color": "#444444"},
     "encoding": {"x": {"field": "hi", "type": "quantitative", "scale": {"domain": [1400, 2025], "nice": false, "zero": false}, "axis": null},
                  "y": {"field": "mg", "type": "quantitative", "scale": {"domain": [0, 600], "range": [981, 616], "nice": false, "zero": false}, "axis": null}}},
    {"data": {"name": "core8"}, "mark": {"type": "rule", "stroke": "#444444", "strokeWidth": 1},
     "encoding": {"x": {"field": "lo", "type": "quantitative", "scale": {"domain": [1400, 2025], "nice": false, "zero": false}, "axis": null}, "x2": {"field": "hi"},
                  "y": {"field": "mg", "type": "quantitative", "scale": {"domain": [0, 600], "range": [981, 616], "nice": false, "zero": false}, "axis": null}}},
    {"data": {"name": "core8"}, "mark": {"type": "tick", "orient": "vertical", "size": 7, "thickness": 1, "color": "#444444"},
     "encoding": {"x": {"field": "lo", "type": "quantitative", "scale": {"domain": [1400, 2025], "nice": false, "zero": false}, "axis": null},
                  "y": {"field": "mg", "type": "quantitative", "scale": {"domain": [0, 600], "range": [981, 616], "nice": false, "zero": false}, "axis": null}}},
    {"data": {"name": "core8"}, "mark": {"type": "tick", "orient": "vertical", "size": 7, "thickness": 1, "color": "#444444"},
     "encoding": {"x": {"field": "hi", "type": "quantitative", "scale": {"domain": [1400, 2025], "nice": false, "zero": false}, "axis": null},
                  "y": {"field": "mg", "type": "quantitative", "scale": {"domain": [0, 600], "range": [981, 616], "nice": false, "zero": false}, "axis": null}}},
    {"data": {"name": "thresholds"}, "transform": [{"filter": "datum.panel == 'c'"}],
     "mark": {"type": "rule", "stroke": "#e62a7d", "strokeWidth": 2, "strokeDash": [7, 4]},
     "encoding": {"x": {"field": "start", "type": "quantitative", "scale": {"domain": [1400, 2025], "nice": false, "zero": false}, "axis": null}, "x2": {"field": "end"},
                  "y": {"field": "rate", "type": "quantitative", "scale": {"domain": [0, 600], "range": [981, 616], "nice": false, "zero": false}, "axis": null}}},
    {"data": {"name": "events"}, "mark": {"type": "circle", "size": 72, "opacity": 1, "stroke": "#3a0b22", "strokeWidth": 0.9},
     "encoding": {"x": {"field": "yr", "type": "quantitative", "scale": {"domain": [1400, 2025], "nice": false, "zero": false}, "axis": null},
                  "y": {"field": "mg", "type": "quantitative", "scale": {"domain": [0, 600], "range": [981, 616], "nice": false, "zero": false}, "axis": null},
                  "fill": {"field": "record", "type": "nominal", "scale": {"domain": ["A", "B"], "range": ["#e8297e", "#8c1248"]}, "legend": null}}},
    {"data": {"name": "core8"}, "mark": {"type": "point", "shape": "triangle-up", "filled": true, "size": 55, "fill": "#9c9c9c", "stroke": "#555555", "strokeWidth": 0.8, "opacity": 1},
     "encoding": {"x": {"field": "yr", "type": "quantitative", "scale": {"domain": [1400, 2025], "nice": false, "zero": false}, "axis": null},
                  "y": {"field": "mg", "type": "quantitative", "scale": {"domain": [0, 600], "range": [981, 616], "nice": false, "zero": false}, "axis": null}}},
    {"data": {"name": "thresholds"}, "transform": [{"filter": "datum.panel == 'c'"}],
     "mark": {"type": "text", "text": ["Core-8", "anomalies"], "align": "center", "baseline": "alphabetic", "lineHeight": 25, "fontSize": 17, "fill": "#111111"},
     "encoding": {"x": {"datum": 1974.7, "type": "quantitative", "scale": {"domain": [1400, 2025], "nice": false, "zero": false}, "axis": null},
                  "y": {"datum": 288, "type": "quantitative", "scale": {"domain": [0, 600], "range": [981, 616], "nice": false, "zero": false}, "axis": null}}},
    {"data": {"name": "thresholds"}, "transform": [{"filter": "datum.panel == 'c'"}],
     "mark": {"type": "rule", "stroke": "#111111", "strokeWidth": 1.2},
     "encoding": {"x": {"datum": 1979.4, "type": "quantitative", "scale": {"domain": [1400, 2025], "nice": false, "zero": false}, "axis": null}, "x2": {"datum": 2000},
                  "y": {"datum": 238, "type": "quantitative", "scale": {"domain": [0, 600], "range": [981, 616], "nice": false, "zero": false}, "axis": null}, "y2": {"datum": 206}}},
    {"data": {"name": "thresholds"}, "transform": [{"filter": "datum.panel == 'c'"}],
     "mark": {"type": "rule", "stroke": "#111111", "strokeWidth": 1.2},
     "encoding": {"x": {"datum": 2000, "type": "quantitative", "scale": {"domain": [1400, 2025], "nice": false, "zero": false}, "axis": null}, "x2": {"datum": 1994.3},
                  "y": {"datum": 206, "type": "quantitative", "scale": {"domain": [0, 600], "range": [981, 616], "nice": false, "zero": false}, "axis": null}, "y2": {"datum": 191}}},
    {"data": {"name": "thresholds"}, "transform": [{"filter": "datum.panel == 'c'"}],
     "mark": {"type": "rule", "stroke": "#111111", "strokeWidth": 1.2},
     "encoding": {"x": {"datum": 1994.3, "type": "quantitative", "scale": {"domain": [1400, 2025], "nice": false, "zero": false}, "axis": null}, "x2": {"datum": 1954.2},
                  "y": {"datum": 191, "type": "quantitative", "scale": {"domain": [0, 600], "range": [981, 616], "nice": false, "zero": false}, "axis": null}, "y2": {"datum": 71}}},
    {"data": {"name": "thresholds"}, "transform": [{"filter": "datum.panel == 'c'"}],
     "mark": {"type": "rule", "stroke": "#111111", "strokeWidth": 1.2},
     "encoding": {"x": {"datum": 2000, "type": "quantitative", "scale": {"domain": [1400, 2025], "nice": false, "zero": false}, "axis": null}, "x2": {"datum": 2009.2},
                  "y": {"datum": 206, "type": "quantitative", "scale": {"domain": [0, 600], "range": [981, 616], "nice": false, "zero": false}, "axis": null}, "y2": {"datum": 192}}},
    {"data": {"name": "thresholds"}, "transform": [{"filter": "datum.panel == 'c'"}],
     "mark": {"type": "rule", "stroke": "#111111", "strokeWidth": 1.2},
     "encoding": {"x": {"datum": 2009.2, "type": "quantitative", "scale": {"domain": [1400, 2025], "nice": false, "zero": false}, "axis": null}, "x2": {"datum": 2019.5},
                  "y": {"datum": 192, "type": "quantitative", "scale": {"domain": [0, 600], "range": [981, 616], "nice": false, "zero": false}, "axis": null}, "y2": {"datum": 181}}},
    {"data": {"name": "thresholds"}, "transform": [{"filter": "datum.panel == 'c'"}],
     "mark": {"type": "text", "text": "c", "align": "right", "baseline": "alphabetic", "fontSize": 20, "fontWeight": "bold", "fill": "#111111"},
     "encoding": {"x": {"datum": 1363.4, "type": "quantitative", "scale": {"domain": [1400, 2025], "nice": false, "zero": false}, "axis": null},
                  "y": {"datum": 330, "type": "quantitative", "scale": {"domain": [0, 600], "range": [981, 616], "nice": false, "zero": false}, "axis": null}}},
    {"data": {"name": "thresholds"}, "transform": [{"filter": "datum.panel == 'c'"}],
     "mark": {"type": "text", "text": ")", "align": "left", "baseline": "alphabetic", "fontSize": 20, "fill": "#111111"},
     "encoding": {"x": {"datum": 1363.4, "type": "quantitative", "scale": {"domain": [1400, 2025], "nice": false, "zero": false}, "axis": null},
                  "y": {"datum": 330, "type": "quantitative", "scale": {"domain": [0, 600], "range": [981, 616], "nice": false, "zero": false}, "axis": null}}}
  ]
}
